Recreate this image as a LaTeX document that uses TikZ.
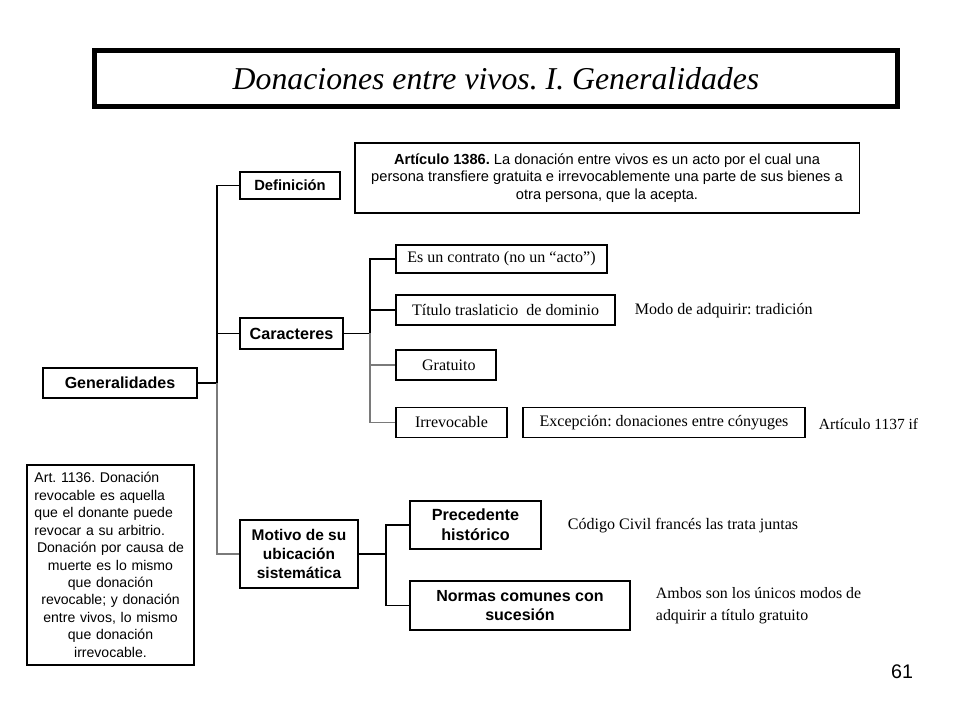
\documentclass[tikz,border=0pt]{standalone}
\usepackage{fontspec}
\setmainfont{Liberation Serif}
\setsansfont{Liberation Sans}
\usepackage{tikz}
\usetikzlibrary{calc}
\usetikzlibrary{positioning}
\definecolor{lineGray}{HTML}{7A7A7A}
\frenchspacing
\newcommand{\lft}[1]{\makebox[3.8cm][l]{#1}}

\begin{document}
\begin{tikzpicture}[x=0.025cm, y=-0.025cm,
		bx/.style={draw, line width=0.8pt, font=\fontsize{10.5}{12}\selectfont\sffamily\bfseries, align=center, inner sep=2pt},
		sb/.style={draw, line width=0.8pt, font=\fontsize{11.4}{13}\selectfont, align=center, inner sep=2pt, minimum height=0.75cm},
		nt/.style={font=\fontsize{11.4}{13}\selectfont, align=left, anchor=west},
		cn/.style={line width=1pt},
		cg/.style={line width=1pt, draw=lineGray}
		]
		\useasboundingbox (0,0) rectangle (960,720);

		\node[draw, line width=3.6pt, minimum width=20.05cm, minimum height=1.42cm, font=\fontsize{22.6}{26}\selectfont\itshape] (title) at (496,78.5) {Donaciones entre vivos. I. Generalidades};

		\node[draw, line width=0.8pt, minimum width=12.6cm, minimum height=1.75cm, align=center, font=\fontsize{10.4}{12.6}\selectfont\sffamily] (art1386) at (607,178) {\textbf{Artículo 1386.} La donación entre vivos es un acto por el cual una\\ persona transfiere gratuita e irrevocablemente una parte de sus bienes a\\ otra persona, que la acepta.};

		\node[bx, line width=1.6pt, minimum width=2.5cm, minimum height=0.675cm] (defin) at (290,185.5) {Definición};
		\node[bx, minimum width=2.575cm, minimum height=0.775cm, font=\fontsize{11.5}{13}\selectfont\sffamily\bfseries] (carac) at (291.5,333.5) {Caracteres};
		\node[bx, minimum width=3.85cm, minimum height=0.75cm, font=\fontsize{11.4}{13}\selectfont\sffamily\bfseries] (gener) at (120,383) {Generalidades};
		\node[bx, minimum width=2.95cm, minimum height=1.7cm, font=\fontsize{11}{13.4}\selectfont\sffamily\bfseries] (motivo) at (299,554) {Motivo de su\\ ubicación\\ sistemática};

		\node[draw, line width=0.8pt, minimum width=4.175cm, minimum height=5cm, text width=3.8cm, align=center, inner sep=3pt, font=\fontsize{10}{12.4}\selectfont\sffamily] (art1136) at (110.5,565) {\lft{Art. 1136. Donación}\\ \lft{revocable es aquella}\\ \lft{que el donante puede}\\ \lft{revocar a su arbitrio.}\\ Donación por causa de\\ muerte es lo mismo\\ que donación\\ revocable; y donación\\ entre vivos, lo mismo\\ que donación\\ irrevocable.};

		% caracteres
		\node[sb, minimum width=5.275cm, minimum height=0.7cm] (contrato) at (501.5,259) {Es un contrato (no un ``acto'')};
		\node[sb, minimum width=5.475cm] (titulo) at (505.5,310) {Título traslaticio\ \ de dominio};
		\node[sb, minimum width=2.5cm] (gratuito) at (446,365) {\hspace{4pt}Gratuito};
		\node[sb, minimum width=2.775cm] (irrevoc) at (451.5,422.5) {Irrevocable};
		\node[sb, minimum width=7.05cm] (excep) at (664,422.5) {Excepción:\ donaciones entre cónyuges};

		\node[nt] (modo) at (630,311) {Modo de adquirir:\ tradición};
		\node[nt, font=\fontsize{11}{13}\selectfont] (art1137) at (814,424) {Artículo 1137 if};

		% motivo
		\node[bx, minimum width=3.275cm, minimum height=1.2cm, font=\fontsize{11.5}{14}\selectfont\sffamily\bfseries] (preced) at (475.5,525) {Precedente\\ histórico};
		\node[bx, minimum width=5.5cm, minimum height=1.225cm, font=\fontsize{11.4}{13.5}\selectfont\sffamily\bfseries] (normas) at (520,605.5) {Normas comunes con\\ sucesión};

		\node[nt] (codigo) at (563,526) {Código Civil\ francés las trata juntas};
		\node[nt, font=\fontsize{11.3}{15.5}\selectfont] (ambos) at (651,606) {Ambos son los únicos modos de\\ adquirir a título gratuito};

		\node[font=\fontsize{14}{16}\selectfont\sffamily] (page) at (902,672) {61};

		% connectors
		\coordinate (j1) at (217,383);
		\coordinate (j2) at (370,333.5);
		\coordinate (j3) at (386,554);
		\draw[cn] (gener.east) -- (j1) |- (defin.west);
		\draw[cn] (j1) |- (carac.west);
		\draw[cg] (j1) |- (motivo.west);

		\draw[cn] (carac.east) -- (j2) |- (contrato.west);
		\draw[cn] (j2) |- (titulo.west);
		\draw[cg] (j2) |- (gratuito.west);
		\draw[cg] (j2) |- (irrevoc.west);

		\draw[cn] (motivo.east) -- (j3) |- (preced.west);
		\draw[cn] (j3) |- (normas.west);
	\end{tikzpicture}
\end{document}
